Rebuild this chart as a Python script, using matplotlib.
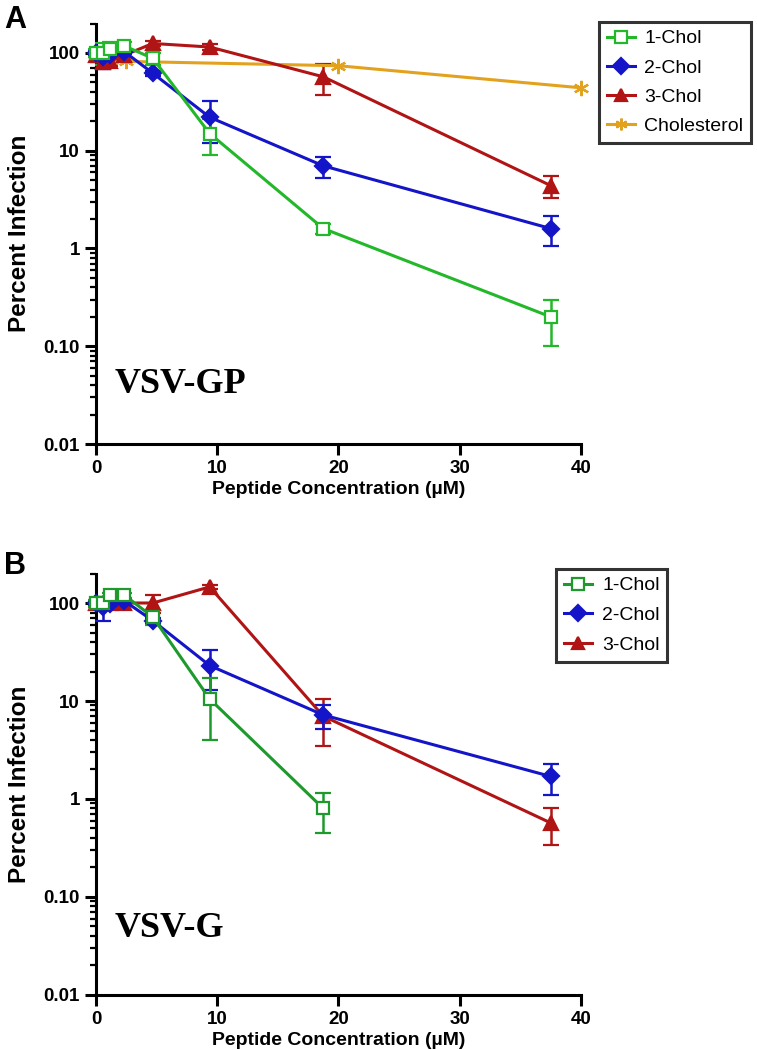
import matplotlib
matplotlib.use('Agg')
import matplotlib.pyplot as plt
from matplotlib.lines import Line2D
from matplotlib.ticker import FixedLocator, LogLocator, NullFormatter

# peptide concentrations (uM), twofold dilutions
conc = [0, 0.59, 1.17, 2.34, 4.69, 9.375, 18.75, 37.5]

# panel A: VSV-GP
gp_chol1 = [100, 100, 110, 118, 88, 15, 1.6, 0.2]
gp_chol1_err = [10, 25, 20, 12, 12, 6, 0.2, 0.1]
gp_chol2 = [100, 90, 95, 103, 62, 22, 7.0, 1.6]
gp_chol2_err = [5, 22, 10, 5, 4, 10, 1.7, 0.55]
gp_chol3 = [95, 80, 82, 95, 125, 115, 57, 4.4]
gp_chol3_err = [5, 12, 8, 5, 8, 8, 20, 1.1]
chol_conc = [0, 0.625, 1.25, 2.5, 20, 40]
gp_chol = [95, 90, 85, 82, 74, 44]

# panel B: VSV-G
g_conc1 = [0, 0.59, 1.17, 2.34, 4.69, 9.375, 18.75]
g_chol1 = [100, 100, 120, 120, 72, 10.5, 0.8]
g_chol1_err = [8, 10, 8, 8, 12, 6.5, 0.35]
g_chol2 = [100, 90, 98, 105, 66, 23, 7.2, 1.7]
g_chol2_err = [5, 25, 8, 5, 5, 10, 2, 0.6]
g_chol3 = [100, 100, 100, 100, 100, 146, 7.0, 0.57]
g_chol3_err = [5, 5, 5, 5, 20, 8, 3.5, 0.23]

labels = ['1-Chol', '2-Chol', '3-Chol', 'Cholesterol']

GREEN_A = '#22B82A'
GREEN_B = '#1E9A2C'
BLUE = '#1414C8'
RED = '#B01414'
ORANGE = '#E3A21E'

plt.rcParams['font.family'] = ['Liberation Sans', 'DejaVu Sans']


def draw(ax, x, y, err, color, marker, ms, filled=True):
    mfc = color if filled else 'white'
    ax.errorbar(x, y, yerr=err, color=color, marker=marker, ms=ms,
                mfc=mfc, mec=color, mew=1.6, lw=2.2, elinewidth=1.8,
                capsize=6, capthick=1.8, clip_on=False, zorder=3)


def style_axes(ax):
    ax.set_yscale('log')
    ax.set_ylim(0.01, 200)
    ax.set_xlim(0, 40)
    ax.yaxis.set_major_locator(FixedLocator([0.01, 0.1, 1, 10, 100]))
    ax.set_yticklabels(['0.01', '0.10', '1', '10', '100'])
    ax.yaxis.set_minor_locator(LogLocator(base=10, subs=range(2, 10), numticks=20))
    ax.yaxis.set_minor_formatter(NullFormatter())
    ax.set_xticks([0, 10, 20, 30, 40])
    for side in ['top', 'right']:
        ax.spines[side].set_visible(False)
    for side in ['left', 'bottom']:
        ax.spines[side].set_linewidth(2.2)
    ax.tick_params(which='major', length=8, width=2.2, labelsize=13.5)
    ax.tick_params(which='minor', length=4.5, width=1.6)
    for lab in ax.get_xticklabels() + ax.get_yticklabels():
        lab.set_fontweight('bold')
    ax.set_xlabel('Peptide Concentration (\u00b5M)', fontsize=14, fontweight='bold',
                  labelpad=3)
    ax.set_ylabel('Percent Infection', fontsize=17.5, fontweight='bold')
    ax.yaxis.set_label_coords(-0.135, 0.5)


def make_legend(colors, markers, fills, names, anchor, spacing):
    handles = []
    for c, m, f in zip(colors, markers, fills):
        handles.append(Line2D([], [], color=c, marker=m, ms=8.5,
                              mfc=c if f else 'white', mec=c, mew=1.6, lw=2.2))
    leg = fig.legend(handles, names, loc='upper left', bbox_to_anchor=anchor,
                     borderaxespad=0, fontsize=14, frameon=True, fancybox=False,
                     handlelength=1.45, labelspacing=spacing, borderpad=0.4,
                     handletextpad=0.5)
    leg.get_frame().set_edgecolor('black')
    leg.get_frame().set_linewidth(2.2)
    return leg


fig = plt.figure(figsize=(7.57, 10.5), dpi=100)
axA = fig.add_axes([0.1268, 0.5771, 0.6407, 0.4005])
axB = fig.add_axes([0.1268, 0.0524, 0.6407, 0.4014])

# panel A
draw(axA, chol_conc, gp_chol, None, ORANGE, (6, 2, 0), 11)
draw(axA, conc, gp_chol3, gp_chol3_err, RED, '^', 10)
draw(axA, conc, gp_chol2, gp_chol2_err, BLUE, 'D', 8)
draw(axA, conc, gp_chol1, gp_chol1_err, GREEN_A, 's', 9, filled=False)
style_axes(axA)
axA.text(1.5, 0.033, 'VSV-GP', family='Liberation Serif', fontweight='bold', fontsize=26)
make_legend([GREEN_A, BLUE, RED, ORANGE], ['s', 'D', '^', (6, 2, 0)],
            [False, True, True, True], labels, (0.791, 0.979), 0.6)

# panel B
draw(axB, conc, g_chol3, g_chol3_err, RED, '^', 10)
draw(axB, conc, g_chol2, g_chol2_err, BLUE, 'D', 8)
draw(axB, g_conc1, g_chol1, g_chol1_err, GREEN_B, 's', 9, filled=False)
style_axes(axB)
axB.text(1.5, 0.039, 'VSV-G', family='Liberation Serif', fontweight='bold', fontsize=26)
make_legend([GREEN_B, BLUE, RED], ['s', 'D', '^'], [False, True, True],
            labels[:3], (0.735, 0.458), 0.62)

fig.text(0.005, 0.995, 'A', fontsize=22, fontweight='bold', va='top')
fig.text(0.005, 0.475, 'B', fontsize=22, fontweight='bold', va='top')

fig.savefig('out.png', dpi=100)
